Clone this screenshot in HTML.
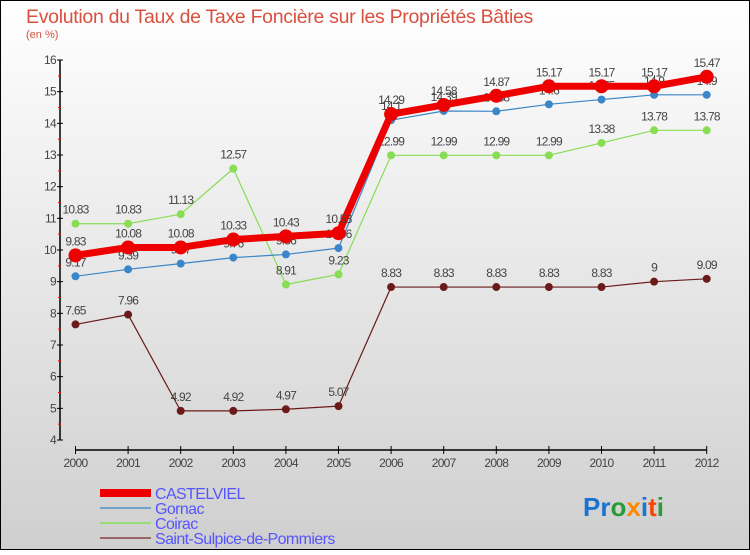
<!DOCTYPE html>
<html><head><meta charset="utf-8"><style>
body{margin:0;}
svg text{font-family:"Liberation Sans",sans-serif;}
</style></head><body>
<svg id="c" width="750" height="550" xmlns="http://www.w3.org/2000/svg">
<defs><linearGradient id="bg" x1="0" y1="0" x2="0" y2="1"><stop offset="0" stop-color="#ffffff"/><stop offset="1" stop-color="#cfcfcf"/></linearGradient></defs>
<rect x="0.5" y="0.5" width="749" height="549" fill="url(#bg)" stroke="#000"/>
<text x="26" y="23" font-size="19.5" fill="#d9503f" letter-spacing="-0.3">Evolution du Taux de Taxe Foncière sur les Propriétés Bâties</text>
<text x="26" y="38" font-size="11" fill="#d9503f">(en %)</text>
<g id="axes"></g><g id="series"></g>
<g>
<rect x="100" y="489" width="51" height="8" fill="#e00"/>
<text x="155" y="499" font-size="16" fill="#5555ff" letter-spacing="-0.6">CASTELVIEL</text>
<line x1="100" y1="508" x2="151" y2="508" stroke="#6fa3cc" stroke-width="2"/>
<text x="155" y="514" font-size="16" fill="#5555ff" letter-spacing="-0.6">Gornac</text>
<line x1="100" y1="523" x2="151" y2="523" stroke="#99dd77" stroke-width="2"/>
<text x="155" y="529" font-size="16" fill="#5555ff" letter-spacing="-0.6">Coirac</text>
<line x1="100" y1="538" x2="151" y2="538" stroke="#996666" stroke-width="2"/>
<text x="155" y="544" font-size="16" fill="#5555ff" letter-spacing="-0.6">Saint-Sulpice-de-Pommiers</text>
</g>
<text x="583" y="516" font-size="26" font-weight="bold"><tspan fill="#1a73d0">Pr</tspan><tspan fill="#2a9a3a">o</tspan><tspan fill="#ff8800">x</tspan><tspan fill="#1a73d0">i</tspan><tspan fill="#ff4400">t</tspan><tspan fill="#2a9a3a">i</tspan></text>
</svg>
<script>
const years=[2000,2001,2002,2003,2004,2005,2006,2007,2008,2009,2010,2011,2012];
const yTicks=[4,5,6,7,8,9,10,11,12,13,14,15,16];
const castelviel=[9.83,10.08,10.08,10.33,10.43,10.53,14.29,14.58,14.87,15.17,15.17,15.17,15.47];
const gornac=[9.17,9.39,9.57,9.76,9.86,10.06,14.1,14.39,14.38,14.6,14.75,14.9,14.9];
const coirac=[10.83,10.83,11.13,12.57,8.91,9.23,12.99,12.99,12.99,12.99,13.38,13.78,13.78];
const sulpice=[7.65,7.96,4.92,4.92,4.97,5.07,8.83,8.83,8.83,8.83,8.83,9,9.09];
const NS="http://www.w3.org/2000/svg";
const xS=i=>75.5+i*52.6;
const yS=v=>440-(v-4)*(380/12);
function mk(t,a,p){const e=document.createElementNS(NS,t);for(const k in a)e.setAttribute(k,a[k]);p.appendChild(e);return e;}
const ax=document.getElementById('axes');
let l=mk('line',{x1:60,y1:60,x2:60,y2:440,stroke:'#000','stroke-width':1.5},ax);


l=mk('line',{x1:75,y1:450,x2:707,y2:450,stroke:'#000','stroke-width':1.5},ax);


yTicks.forEach(v=>{
 mk('line',{x1:57,y1:yS(v),x2:63,y2:yS(v),stroke:'#000'},ax);
 if(v<16)mk('line',{x1:58,y1:yS(v+0.5),x2:61,y2:yS(v+0.5),stroke:'#f00'},ax);
 const t=mk('text',{x:56,y:yS(v)+4,'font-size':12,fill:'#444','text-anchor':'end','letter-spacing':'-0.7'},ax);
 t.textContent=v;
 
 
});
years.forEach((y,i)=>{
 mk('line',{x1:xS(i),y1:446,x2:xS(i),y2:454,stroke:'#000'},ax);
 const t=mk('text',{x:xS(i),y:467,'font-size':12,fill:'#444','text-anchor':'middle','letter-spacing':'-0.7'},ax);
 t.textContent=y;
 
 
});
const sg=document.getElementById('series');
function draw(vals,color,w,r,name){
 const g=mk('g',{},sg);
 
 
 const pl=mk('polyline',{points:vals.map((v,i)=>xS(i)+','+yS(v)).join(' '),fill:'none',stroke:color,'stroke-width':w,'stroke-linejoin':'round'},g);
 
 
 vals.forEach((v,i)=>{
  const c=mk('circle',{cx:xS(i),cy:yS(v),r:r,fill:color},g);
  
  
  const t=mk('text',{x:xS(i),y:yS(v)-10,'font-size':12,fill:'#444','text-anchor':'middle','letter-spacing':'-0.8'},g);
  t.textContent=v;
  
  
 });
}
draw(sulpice,'#6b1a1a',1.2,4,'saint-sulpice');
draw(coirac,'#88dd55',1.2,4,'coirac');
draw(gornac,'#3a86c8',1.2,4,'gornac');
draw(castelviel,'#ee0000',7,7,'castelviel');
</script>
</body></html>
